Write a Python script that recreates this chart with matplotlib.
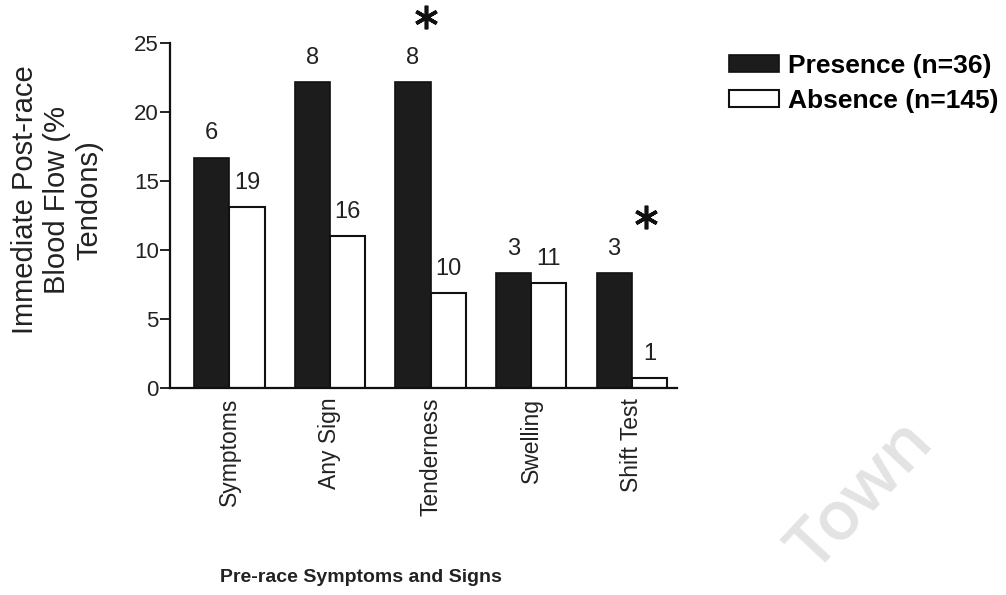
import matplotlib.pyplot as plt
import numpy as np

plt.rcParams['font.family'] = ['Liberation Sans', 'DejaVu Sans']

# Data
categories = ['Symptoms', 'Any Sign', 'Tenderness', 'Swelling', 'Shift Test']
presence = [16.7, 22.2, 22.2, 8.3, 8.3]    # % tendons, presence (n=36)
absence = [13.1, 11.0, 6.9, 7.6, 0.7]      # % tendons, absence (n=145)
presence_n = [6, 8, 8, 3, 3]
absence_n = [19, 16, 10, 11, 1]
significant = ['Tenderness', 'Shift Test']
star_dx = [-0.05, 0.14]
star_dy = [4.7, 4.1]

x = np.arange(len(categories))
w = 0.35

fig = plt.figure(figsize=(10.06, 5.95), dpi=100)
ax = fig.add_axes([170/1006, 1 - 388/595, 507/1006, 345/595])

b1 = ax.bar(x - w/2, presence, w, color='#1c1c1c', edgecolor='#111111',
            linewidth=1.2, label='Presence (n=36)')
b2 = ax.bar(x + w/2, absence, w, color='white', edgecolor='#111111',
            linewidth=1.5, label='Absence (n=145)')

# counts above bars
for xi, v, n in zip(x - w/2, presence, presence_n):
    ax.text(xi, v + 0.95, str(n), ha='center', va='bottom', fontsize=17, color='#222222')
for xi, v, n in zip(x + w/2, absence, absence_n):
    ax.text(xi, v + 0.95, str(n), ha='center', va='bottom', fontsize=17, color='#222222')

# significance markers
for cat, dx, dy in zip(significant, star_dx, star_dy):
    i = categories.index(cat)
    ax.plot(i + dx, presence[i] + dy, marker=(6, 2, 0), markersize=17,
            markeredgewidth=2.6, color='#111111', clip_on=False)

ax.set_xlim(-0.59, 4.45)
ax.set_ylim(0, 25)
ax.set_yticks([0, 5, 10, 15, 20, 25])
ax.set_xticks(x)
ax.set_xticklabels(categories, rotation=90, fontsize=16.5, color='#222222')
ax.tick_params(axis='x', length=0, pad=7)
ax.tick_params(axis='y', length=7, width=1.2, pad=1, labelsize=16, labelcolor='#222222')
for s in ['top', 'right']:
    ax.spines[s].set_visible(False)
for s in ['left', 'bottom']:
    ax.spines[s].set_linewidth(1.6)
    ax.spines[s].set_color('#111111')

fig.text(57/1006, 1 - 200/595, 'Immediate Post-race\nBlood Flow (%\nTendons)',
         rotation=90, ha='center', va='center', multialignment='center',
         fontsize=21, linespacing=1.2, color='#222222')
fig.text(361/1006, 1 - 582/595, 'Pre-race Symptoms and Signs', ha='center',
         va='baseline', fontsize=14, fontweight='bold', color='#222222')

fig.legend(handles=[b1, b2], loc='upper left', bbox_to_anchor=(729/1006, 1 - 54/595),
           frameon=False, prop={'weight': 'bold', 'size': 19},
           handlelength=1.9, handleheight=0.6, handletextpad=0.34,
           labelspacing=0.42, borderpad=0, borderaxespad=0)

# watermark
fig.text(862/1006, 1 - 496/595, 'Town', rotation=47, ha='center', va='center',
         fontsize=50, color='#e3e3e3', family='Open Sans', weight='semibold', zorder=0)

fig.savefig('out.png', dpi=100)
